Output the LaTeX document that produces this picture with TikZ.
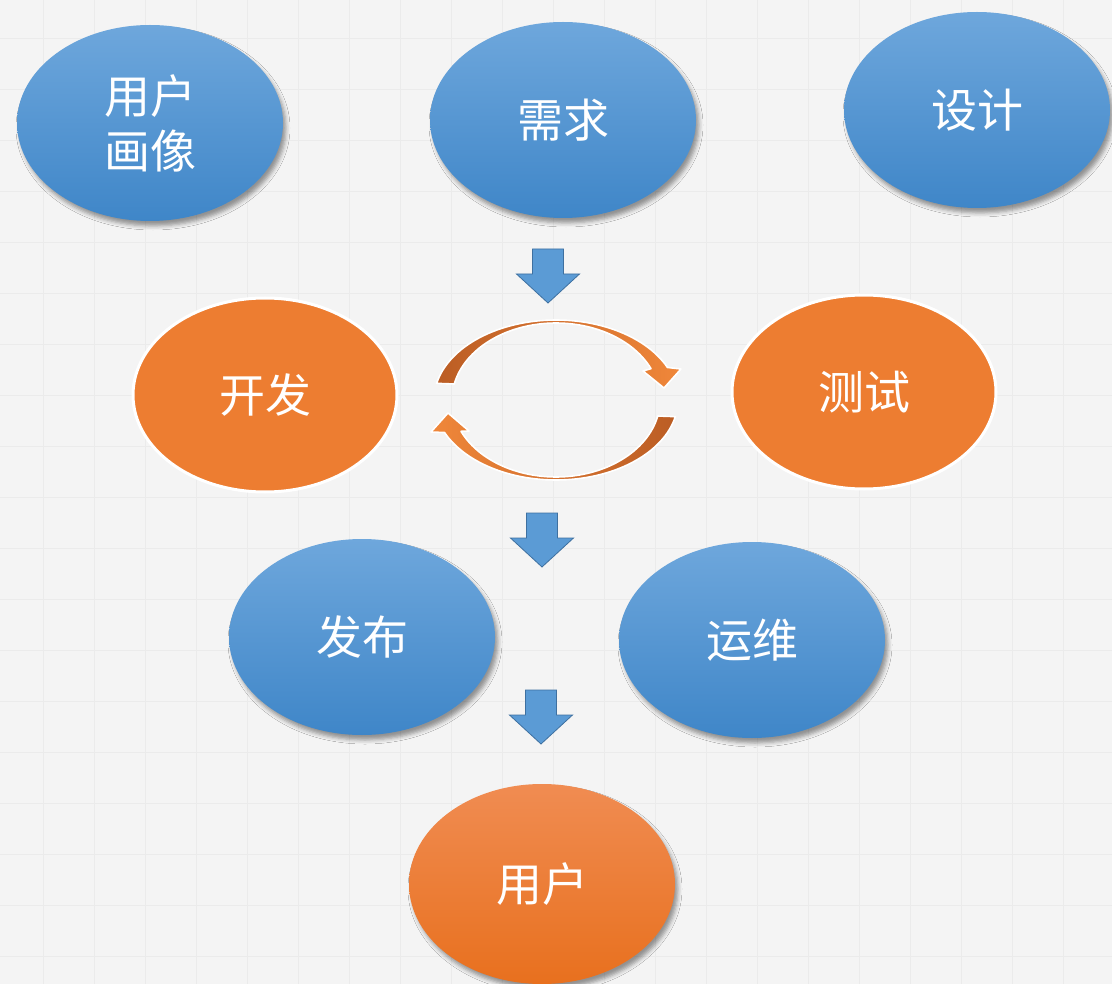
\documentclass[tikz,border=0pt]{standalone}
\usepackage{fontspec}
\newfontfamily\cjk{Noto Sans CJK SC}
\usetikzlibrary{shapes.geometric,shadows.blur}
\definecolor{bgc}{HTML}{F4F4F4}
\definecolor{gridc}{HTML}{EBEBEB}
\definecolor{btop}{HTML}{6EA7DC}
\definecolor{bbot}{HTML}{3F86C8}
\definecolor{orng}{HTML}{ED7D31}
\definecolor{otop}{HTML}{F08C52}
\definecolor{obot}{HTML}{E8701E}
\definecolor{odark}{HTML}{BB5D24}
\definecolor{olight}{HTML}{F0873A}
\definecolor{arrfill}{HTML}{5B9BD5}
\definecolor{arrline}{HTML}{3E70A0}
\begin{document}
\begin{tikzpicture}[x=1pt,y=-1pt,
  bubble/.style={ellipse, inner sep=0pt, minimum width=266pt, minimum height=196pt,
    text=white, font=\cjk\fontsize{46}{55}\selectfont, align=center},
  bluebub/.style={bubble, top color=btop, bottom color=bbot,
    blur shadow={shadow xshift=3pt, shadow yshift=-5pt, shadow blur radius=4pt, shadow opacity=40}},
  orangebub/.style={bubble, fill=orng, draw=white, line width=3pt},
  userbub/.style={bubble, top color=otop, bottom color=obot,
    blur shadow={shadow xshift=3pt, shadow yshift=-5pt, shadow blur radius=4pt, shadow opacity=40}},
  downarrow/.pic={\draw[fill=arrfill, draw=arrline, line width=0.8pt, line join=miter]
    (-15.5,-27) -- (15.5,-27) -- (15.5,-2) -- (31.5,-2) -- (0,27) -- (-31.5,-2) -- (-15.5,-2) -- cycle;},
  cyclearc/.style={draw=white, line width=1.6pt, line join=round}
]
\useasboundingbox (0,0) rectangle (1112,984);
\fill[bgc] (0,0) rectangle (1112,984);
\foreach \i in {0,...,21} {
  \draw[gridc, line width=0.8pt] ({43+51*(\i-1)},0) -- ({43+51*(\i-1)},984);
}
\foreach \j in {0,...,19} {
  \draw[gridc, line width=0.8pt] (0,{38+51*(\j-1)}) -- (1112,{38+51*(\j-1)});
}

% nodes
\node[bluebub] (persona) at (150,123) {用户\\画像};
\node[bluebub] (req) at (563,120) {需求};
\node[bluebub] (design) at (977,110) {设计};
\node[orangebub, minimum width=264pt, minimum height=194pt] (dev) at (265,395) {开发};
\node[orangebub, minimum width=264pt, minimum height=194pt] (test) at (864,392) {测试};
\node[bluebub] (release) at (362,637) {发布};
\node[bluebub] (ops) at (752,640) {运维};
\node[userbub, minimum height=200pt] (user) at (542,884) {用户};

% block arrows
\pic at (548,276) {downarrow};
\pic at (542,540) {downarrow};
\pic at (541,717) {downarrow};

% cycle arrows
\path[cyclearc, left color=odark, right color=olight]
  plot[domain=-168:-24, samples=60] ({556+122*cos(\x)},{400+80*sin(\x)})
  -- (681,369) -- (664,388) -- (643,371)
  -- plot[domain=-24:-168, samples=60] ({556+104*cos(\x)},{400+77*sin(\x)}) -- cycle;
\path[cyclearc, left color=olight, right color=odark]
  plot[domain=12:156, samples=60] ({556+122*cos(\x)},{400+80*sin(\x)})
  -- (431,432) -- (448,413) -- (469,431)
  -- plot[domain=156:12, samples=60] ({556+104*cos(\x)},{400+77*sin(\x)}) -- cycle;
\end{tikzpicture}
\end{document}
